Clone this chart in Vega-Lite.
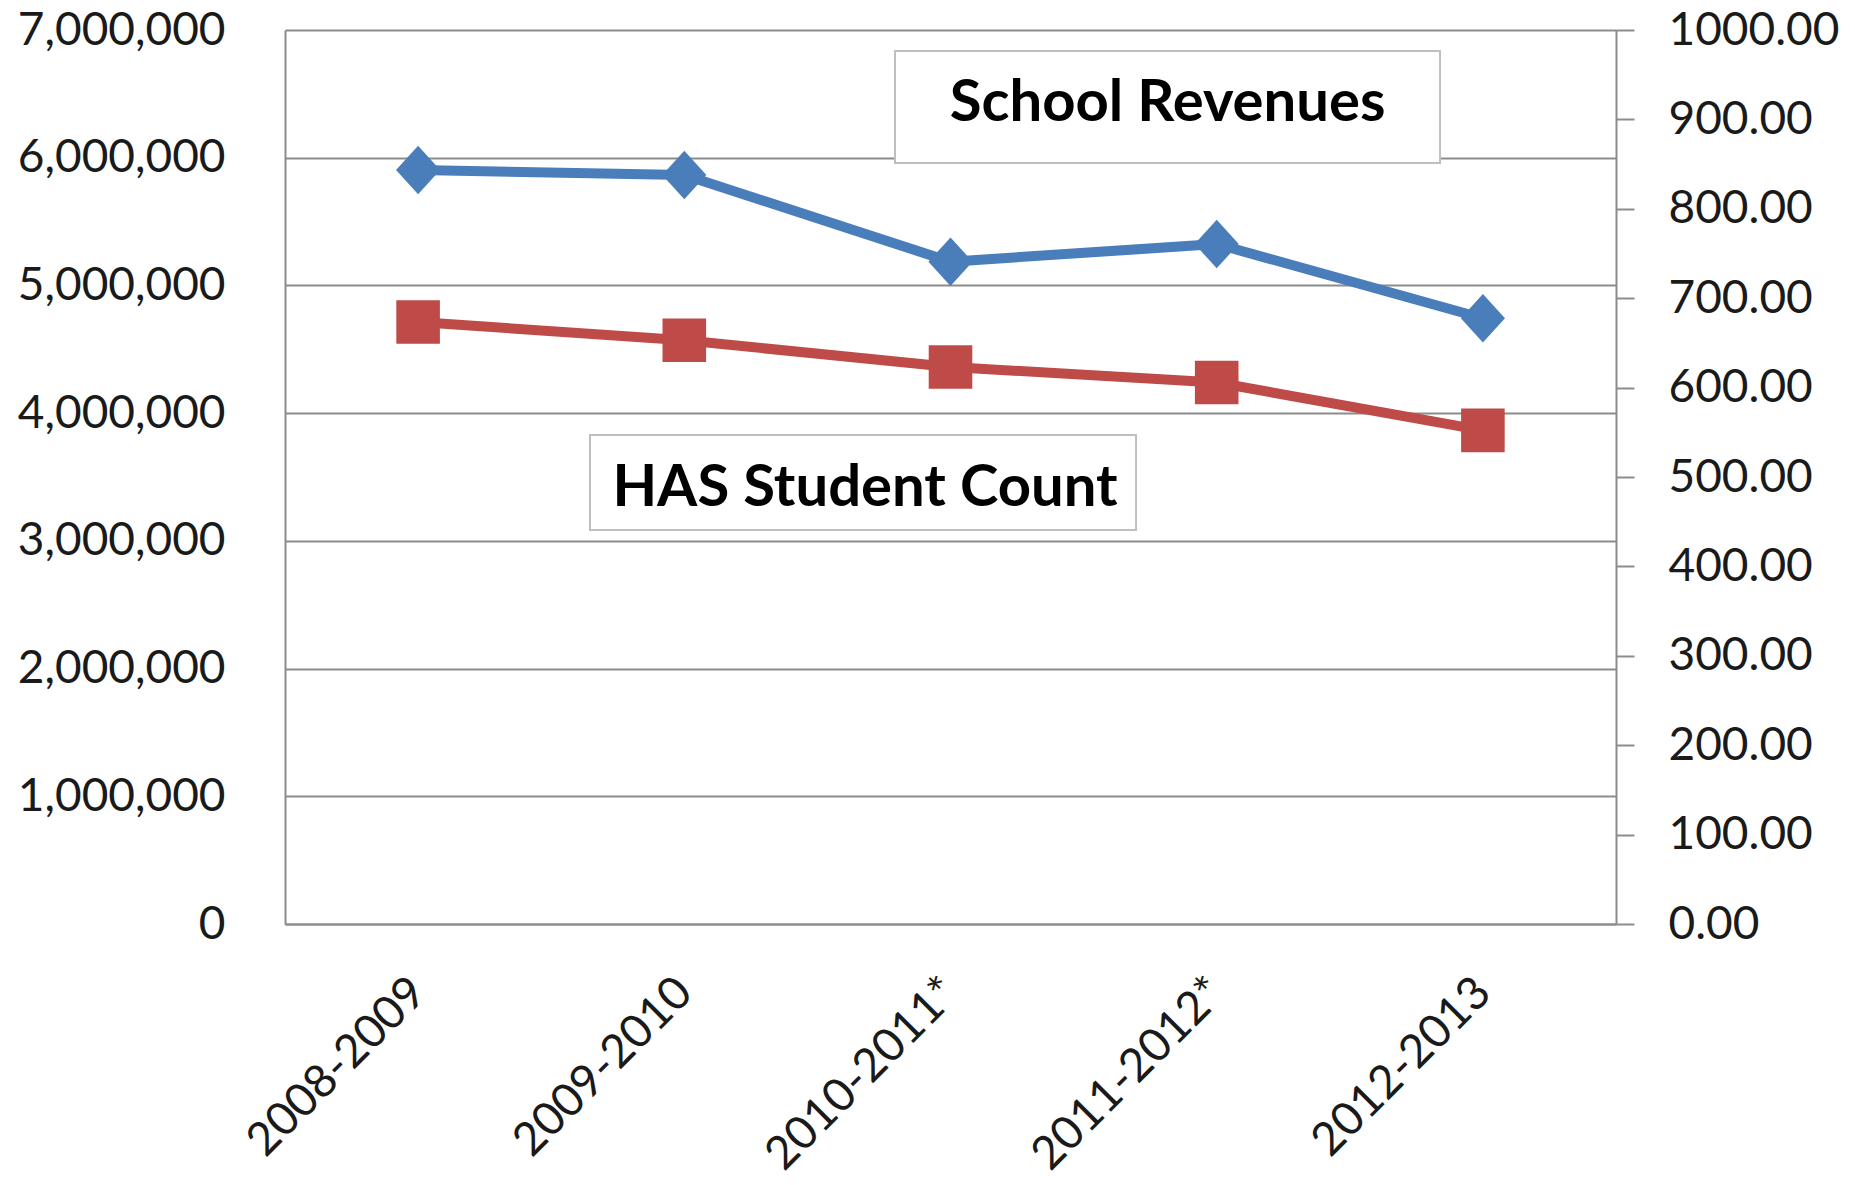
{
  "$schema": "https://vega.github.io/schema/vega-lite/v6.json",
  "width": 1331,
  "height": 894,
  "autosize": {"type": "none"},
  "padding": {"left": 285, "top": 30, "right": 239, "bottom": 261},
  "background": "white",
  "config": {
    "view": {"stroke": null},
    "font": "Lato",
    "axis": {
      "labelFont": "Lato",
      "labelFontSize": 46,
      "labelColor": "#1a1a1a",
      "labelLimit": 0,
      "title": null,
      "domainColor": "#8c8c8c",
      "domainWidth": 2,
      "tickColor": "#8c8c8c",
      "tickWidth": 2,
      "gridColor": "#8c8c8c",
      "gridWidth": 2,
      "gridOpacity": 1,
      "labelOverlap": false,
      "labelFlush": false
    }
  },
  "data": {
    "values": [
      {"year": "2008-2009", "revenue": 5904000, "students": 673.4},
      {"year": "2009-2010", "revenue": 5865000, "students": 652.9},
      {"year": "2010-2011*", "revenue": 5186000, "students": 623.0},
      {"year": "2011-2012*", "revenue": 5324000, "students": 605.7},
      {"year": "2012-2013", "revenue": 4743000, "students": 552.2}
    ]
  },
  "resolve": {"scale": {"x": "independent", "y": "independent"}},
  "layer": [
    {
      "mark": {"type": "line", "color": "#4A7EBB", "strokeWidth": 10, "strokeJoin": "round"},
      "encoding": {
        "x": {"field": "year", "type": "ordinal", "sort": null,
              "scale": {"type": "point", "padding": 0.5},
              "axis": {"labelAngle": -45, "labelAlign": "right", "labelBaseline": "middle",
                       "ticks": false, "labelPadding": 61, "domain": true, "grid": false, "labelLimit": 0}},
        "y": {"field": "revenue", "type": "quantitative",
              "scale": {"domain": [0, 7000000], "nice": false, "zero": true},
              "axis": {"orient": "left", "values": [0, 1000000, 2000000, 3000000, 4000000, 5000000, 6000000, 7000000],
                       "format": ",d", "grid": true, "ticks": false, "labelPadding": 60, "domain": true, "labelLimit": 0}}
      }
    },
    {
      "mark": {"type": "point", "filled": true, "opacity": 1, "color": "#4A7EBB",
               "shape": "M-1,0L0,-1.1L1,0L0,1.1Z", "size": 1950},
      "encoding": {
        "x": {"field": "year", "type": "ordinal", "sort": null,
              "scale": {"type": "point", "padding": 0.5}, "axis": null},
        "y": {"field": "revenue", "type": "quantitative",
              "scale": {"domain": [0, 7000000], "nice": false, "zero": true}, "axis": null}
      }
    },
    {
      "mark": {"type": "line", "color": "#BE4B48", "strokeWidth": 10, "strokeJoin": "round"},
      "encoding": {
        "x": {"field": "year", "type": "ordinal", "sort": null,
              "scale": {"type": "point", "padding": 0.5}, "axis": null},
        "y": {"field": "students", "type": "quantitative",
              "scale": {"domain": [0, 1000], "nice": false, "zero": true},
              "axis": {"orient": "right", "values": [0, 100, 200, 300, 400, 500, 600, 700, 800, 900, 1000],
                       "format": ".2f", "grid": false, "ticks": true, "tickSize": 18, "labelPadding": 34, "domain": true, "labelLimit": 0}}
      }
    },
    {
      "mark": {"type": "point", "filled": true, "opacity": 1, "color": "#BE4B48",
               "shape": "square", "size": 1900},
      "encoding": {
        "x": {"field": "year", "type": "ordinal", "sort": null,
              "scale": {"type": "point", "padding": 0.5}, "axis": null},
        "y": {"field": "students", "type": "quantitative",
              "scale": {"domain": [0, 1000], "nice": false, "zero": true}, "axis": null}
      }
    },
    {
      "data": {"values": [{"label": "School Revenues"}]},
      "layer": [
        {
          "mark": {"type": "rect", "fill": "white", "stroke": "#bfbfbf", "strokeWidth": 2},
          "encoding": {
            "x": {"datum": 2.2915, "type": "quantitative", "scale": {"domain": [0, 5], "nice": false, "zero": false}, "axis": null},
            "x2": {"datum": 4.339},
            "y": {"datum": 6835570, "type": "quantitative", "scale": {"domain": [0, 7000000], "nice": false}, "axis": null},
            "y2": {"datum": 5958613}
          }
        },
        {
          "mark": {"type": "text", "font": "Lato", "fontWeight": "bold", "fontSize": 58, "color": "black",
                   "align": "center", "baseline": "alphabetic"},
          "encoding": {
            "x": {"datum": 3.3156, "type": "quantitative", "scale": {"domain": [0, 5], "nice": false, "zero": false}, "axis": null},
            "y": {"datum": 6289821, "type": "quantitative", "scale": {"domain": [0, 7000000], "nice": false}, "axis": null},
            "text": {"field": "label"}
          }
        }
      ]
    },
    {
      "data": {"values": [{"label": "HAS Student Count"}]},
      "layer": [
        {
          "mark": {"type": "rect", "fill": "white", "stroke": "#bfbfbf", "strokeWidth": 2},
          "encoding": {
            "x": {"datum": 1.1458, "type": "quantitative", "scale": {"domain": [0, 5], "nice": false, "zero": false}, "axis": null},
            "x2": {"datum": 3.197},
            "y": {"datum": 3828859, "type": "quantitative", "scale": {"domain": [0, 7000000], "nice": false}, "axis": null},
            "y2": {"datum": 3085011}
          }
        },
        {
          "mark": {"type": "text", "font": "Lato", "fontWeight": "bold", "fontSize": 58, "color": "black",
                   "align": "center", "baseline": "alphabetic"},
          "encoding": {
            "x": {"datum": 2.179, "type": "quantitative", "scale": {"domain": [0, 5], "nice": false, "zero": false}, "axis": null},
            "y": {"datum": 3272931, "type": "quantitative", "scale": {"domain": [0, 7000000], "nice": false}, "axis": null},
            "text": {"field": "label"}
          }
        }
      ]
    }
  ]
}
